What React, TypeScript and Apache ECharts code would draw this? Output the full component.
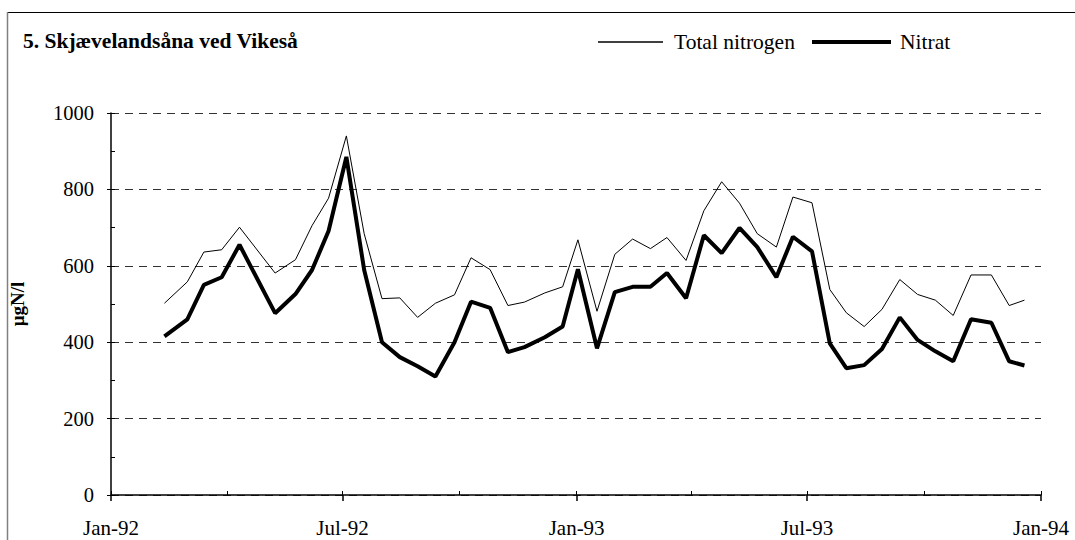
import React, { useEffect, useRef } from "react";
import * as echarts from "echarts";

const sampleDates = [
  "1992-02-12", "1992-03-01", "1992-03-14", "1992-03-28", "1992-04-11", "1992-05-09",
  "1992-05-25", "1992-06-07", "1992-06-20", "1992-07-04", "1992-07-18", "1992-08-01",
  "1992-08-15", "1992-08-29", "1992-09-12", "1992-09-27", "1992-10-10", "1992-10-25",
  "1992-11-08", "1992-11-21", "1992-12-07", "1992-12-21", "1993-01-02", "1993-01-17",
  "1993-01-31", "1993-02-14", "1993-02-28", "1993-03-13", "1993-03-28", "1993-04-11",
  "1993-04-25", "1993-05-09", "1993-05-23", "1993-06-07", "1993-06-20", "1993-07-05",
  "1993-07-19", "1993-08-01", "1993-08-15", "1993-08-29", "1993-09-12", "1993-09-26",
  "1993-10-10", "1993-10-24", "1993-11-07", "1993-11-23", "1993-12-07", "1993-12-19",
];

const totalNitrogen = [
  502, 558, 636, 642, 701, 581, 616, 705, 777, 940, 684, 514,
  516, 465, 502, 524, 621, 590, 496, 505, 529, 545, 668, 481,
  630, 670, 645, 674, 614, 744, 820, 764, 684, 649, 780, 765,
  538, 477, 441, 486, 564, 525, 510, 470, 576, 576, 496, 510,
];

const nitrat = [
  415, 460, 550, 570, 655, 476, 526, 589, 691, 885, 589, 400,
  361, 337, 310, 400, 506, 490, 374, 387, 413, 441, 591, 384,
  531, 545, 545, 581, 515, 680, 633, 699, 649, 570, 676, 638,
  397, 332, 340, 382, 465, 406, 376, 350, 460, 451, 350, 339,
];

const xLabelDates = ["1992-01-01", "1992-07-01", "1993-01-01", "1993-07-01", "1994-01-01"];
const xTickLabels = ["Jan-92", "Jul-92", "Jan-93", "Jul-93", "Jan-94"];
const xMinorTickDates = [
  "1992-01-01", "1992-04-01", "1992-07-01", "1992-10-01",
  "1993-01-01", "1993-04-01", "1993-07-01", "1993-10-01", "1994-01-01",
];
const yMajorTicks = [0, 200, 400, 600, 800, 1000];
const yMinorTicks = [0, 100, 200, 300, 400, 500, 600, 700, 800, 900, 1000];

const titleText = "5. Skjævelandsåna ved Vikeså";
const yAxisTitle = "µgN/l";
const seriesNames = ["Total nitrogen", "Nitrat"];

const toTs = (s: string) => {
  const [y, m, d] = s.split("-").map(Number);
  return Date.UTC(y, m - 1, d);
};

const FONT = "'Liberation Serif', 'Times New Roman', serif";

export default function App() {
  const ref = useRef<HTMLDivElement>(null);

  useEffect(() => {
    if (!ref.current) return;
    const chart = echarts.init(ref.current, undefined, { renderer: "svg" });
    const labelTs = xLabelDates.map(toTs);
    const minorTs = xMinorTickDates.map(toTs);
    const xMin = labelTs[0];
    const xMax = labelTs[labelTs.length - 1];

    const tnData = sampleDates.map((d, i) => [toTs(d), totalNitrogen[i]]);
    const noData = sampleDates.map((d, i) => [toTs(d), nitrat[i]]);

    chart.setOption({
      animation: false,
      backgroundColor: "#fff",
      textStyle: { fontFamily: FONT, color: "#000" },
      title: {
        text: titleText,
        left: 18,
        top: 25,
        textStyle: { fontFamily: FONT, fontWeight: "bold", fontSize: 21.5, color: "#000" },
      },
      legend: [
        {
          data: [seriesNames[0]],
          left: 593,
          top: 26,
          icon: "rect",
          itemWidth: 65,
          itemHeight: 1.3,
          textStyle: { fontFamily: FONT, fontSize: 21.5, color: "#000", padding: [0, 0, 0, 6] },
        },
        {
          data: [seriesNames[1]],
          left: 807,
          top: 26,
          icon: "rect",
          itemWidth: 79,
          itemHeight: 4,
          textStyle: { fontFamily: FONT, fontSize: 21.5, color: "#000", padding: [0, 0, 0, 4] },
        },
      ],
      grid: { left: 107, right: 34, top: 113, bottom: 45 },
      xAxis: [
        {
          type: "value",
          min: xMin,
          max: xMax,
          axisLine: { show: true, lineStyle: { color: "#000", width: 1.5 } },
          axisTick: {
            show: true,
            customValues: labelTs,
            length: 6,
            lineStyle: { color: "#000", width: 1.5 },
          },
          axisLabel: {
            customValues: labelTs,
            showMinLabel: true,
            showMaxLabel: true,
            margin: 22,
            fontFamily: FONT,
            fontSize: 21,
            color: "#000",
            formatter: (v: number) => {
              const idx = labelTs.findIndex((t) => Math.abs(t - v) < 86400000);
              return idx >= 0 ? xTickLabels[idx] : "";
            },
          },
          splitLine: { show: false },
        },
        {
          type: "value",
          min: xMin,
          max: xMax,
          position: "bottom",
          axisLine: { show: false },
          axisTick: {
            show: true,
            inside: true,
            customValues: minorTs,
            length: 4,
            lineStyle: { color: "#000", width: 1 },
          },
          axisLabel: { show: false },
          splitLine: { show: false },
        },
      ],
      yAxis: [
        {
          type: "value",
          min: 0,
          max: 1000,
          interval: 200,
          name: yAxisTitle,
          nameLocation: "middle",
          nameGap: 84,
          nameRotate: 90,
          nameTextStyle: { fontFamily: FONT, fontWeight: "bold", fontSize: 19, color: "#000" },
          axisLine: { show: true, lineStyle: { color: "#000", width: 1.5 } },
          axisTick: {
            show: true,
            customValues: yMajorTicks,
            length: 4,
            lineStyle: { color: "#000", width: 1 },
          },
          axisLabel: {
            margin: 17,
            fontFamily: FONT,
            fontSize: 20.5,
            color: "#000",
            formatter: (v: number) => String(v),
          },
          splitLine: {
            show: true,
            lineStyle: { color: "#333", width: 1, type: [8, 6] },
          },
        },
        {
          type: "value",
          min: 0,
          max: 1000,
          position: "left",
          axisLine: { show: false },
          axisTick: {
            show: true,
            inside: true,
            customValues: yMinorTicks,
            length: 4,
            lineStyle: { color: "#000", width: 1 },
          },
          axisLabel: { show: false },
          splitLine: { show: false },
        },
      ],
      graphic: [
        {
          type: "line",
          shape: { x1: 7, y1: 12.5, x2: 1075, y2: 12.5 },
          style: { stroke: "#000", lineWidth: 1 },
          silent: true,
        },
        {
          type: "line",
          shape: { x1: 7.5, y1: 12, x2: 7.5, y2: 540 },
          style: { stroke: "#808080", lineWidth: 1.5 },
          silent: true,
        },
      ],
      series: [
        {
          name: seriesNames[0],
          type: "line",
          data: tnData,
          symbol: "none",
          showSymbol: false,
          lineStyle: { color: "#000", width: 1 },
          itemStyle: { color: "#000" },
        },
        {
          name: seriesNames[1],
          type: "line",
          data: noData,
          symbol: "none",
          showSymbol: false,
          lineStyle: { color: "#000", width: 4 },
          itemStyle: { color: "#000" },
        },
      ],
    });

    return () => chart.dispose();
  }, []);

  return (
    <div
      ref={ref}
      style={{ position: "fixed", left: 0, top: 0, width: 1075, height: 540, background: "#fff" }}
    />
  );
}
